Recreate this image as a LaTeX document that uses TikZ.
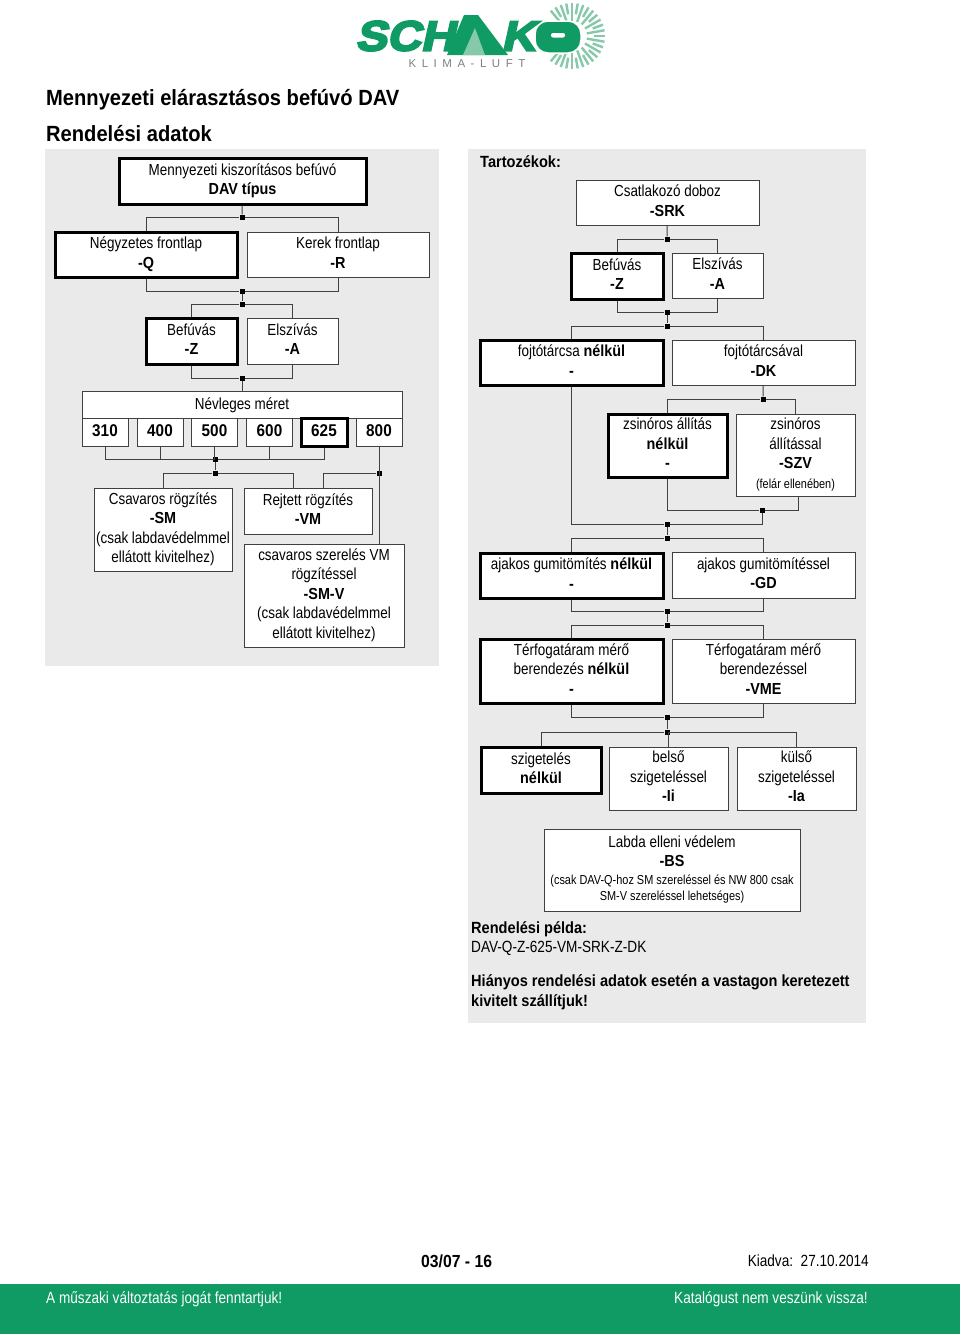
\documentclass[tikz,border=0pt]{standalone}
\usepackage{fontspec}
\setmainfont[FakeStretch=0.84,BoldFeatures={FakeStretch=0.9}]{Liberation Sans}
\newfontfamily\titlefont[FakeStretch=0.915]{Liberation Sans}
\newfontfamily\logofont[FakeStretch=1.12,FakeSlant=0.22,FakeBold=5]{Liberation Sans}
\newfontfamily\klimafont[LetterSpace=48]{Liberation Sans}
\definecolor{panelgray}{HTML}{EAEAEA}
\definecolor{linegray}{HTML}{404040}
\definecolor{schakogreen}{HTML}{0F9B63}
\definecolor{raygreen}{HTML}{86C8AA}
\newcommand{\smalltxt}{\fontsize{13}{16}\selectfont}
\newcommand{\boxstrut}{\rule[-4pt]{0pt}{17.2pt}}
\tikzset{
  optbox/.style={draw=linegray,fill=white,line width=1pt,inner sep=0pt,align=center,
    font=\fontsize{16}{19.5}\selectfont,text=black,
    execute at begin node=\boxstrut,execute at end node=\boxstrut},
  chosen/.style={optbox,draw=black,line width=3pt},
  sizebox/.style={font=\fontsize{17}{19.5}\selectfont\bfseries,minimum height=28pt},
  junc/.style={fill=black,inner sep=0pt,minimum size=5pt},
  conn/.style={draw=linegray,line width=1pt},
  freetxt/.style={anchor=west,inner sep=0pt,font=\fontsize{16.2}{19.5}\selectfont,text=black,align=left},
  logotxt/.style={anchor=west,inner sep=0pt,text=schakogreen,font=\fontsize{42}{42}\selectfont\logofont\bfseries}
}
\begin{document}
\begin{tikzpicture}[x=1pt,y=-1pt]

\useasboundingbox (0,0) rectangle (960,1334) ;

% panneaux

\fill[panelgray] (45,149) rectangle (439,666) ;
\fill[panelgray] (468,149) rectangle (866,1023) ;
\fill[schakogreen] (0,1284) rectangle (960,1334) ;

% logo

\foreach \a in {-130,-110,...,130} {
  \draw[raygreen,line width=2.4pt] (572,36) ++(\a:15) -- ++(\a:18) ;
}
\foreach \a in {-120,-100,...,120} {
  \draw[raygreen,line width=2.4pt] (572,36) ++(\a:22) -- ++(\a:11) ;
}
\fill[schakogreen,draw=white,line width=1.5pt,rounded corners=13pt] (535,21) rectangle (581,53) ;
\fill[white,rounded corners=2pt] (551,33) rectangle (565,37.5) ;
\node[logotxt] (logoa) at (355,36) {SCH} ;
\fill[schakogreen] (464,15) -- (478,15) -- (508,55) -- (447,55) -- cycle ;
\fill[raygreen] (475,28) -- (485,55) -- (463,55) -- cycle ;
\node[logotxt] (logob) at (501,36) {K} ;
\node[anchor=center,inner sep=0pt,text=gray,font=\fontsize{11.5}{12}\selectfont\klimafont] (klima) at (467,63.5) {KLIMA-LUFT} ;

% titres

\node[freetxt,font=\fontsize{22}{24}\selectfont\titlefont\bfseries] (titre) at (46,100) {Mennyezeti elárasztásos befúvó DAV} ;
\node[freetxt,font=\fontsize{22}{24}\selectfont\titlefont\bfseries] (soustitre) at (46,134) {Rendelési adatok} ;

% arbre gauche

\node[chosen,minimum width=247pt,minimum height=46pt] (dav) at (242.5,181) {Mennyezeti kiszorításos befúvó\\\textbf{DAV típus}} ;
\node[chosen,minimum width=182pt,minimum height=45pt] (q) at (146,254.5) {Négyzetes frontlap\\\textbf{-Q}} ;
\node[optbox,minimum width=182pt,minimum height=45pt] (r) at (338,254.5) {Kerek frontlap\\\textbf{-R}} ;
\node[chosen,minimum width=91pt,minimum height=46pt] (z) at (191.5,341) {Befúvás\\\textbf{-Z}} ;
\node[optbox,minimum width=91pt,minimum height=46pt] (a) at (292.5,341) {Elszívás\\\textbf{-A}} ;
\node[optbox,minimum width=320pt,minimum height=27pt] (meret) at (242,404.5) {Névleges méret} ;

\foreach \s/\x in {310/105,400/160,500/214.5,600/269.5,800/379} {
  \node[optbox,sizebox,minimum width=46pt] (s\s) at (\x,432) {\s} ;
}
\node[chosen,sizebox,minimum width=46pt] (s625) at (324,432) {625} ;

\node[optbox,minimum width=138pt,minimum height=83pt] (sm) at (163,529.5) {Csavaros rögzítés\\\textbf{-SM}\\(csak labdavédelmmel\\ellátott kivitelhez)} ;
\node[optbox,minimum width=128pt,minimum height=46pt] (vm) at (308,511) {Rejtett rögzítés\\\textbf{-VM}} ;
\node[optbox,minimum width=160pt,minimum height=103pt] (smv) at (324,595.5) {csavaros szerelés VM\\rögzítéssel\\\textbf{-SM-V}\\(csak labdavédelmmel\\ellátott kivitelhez)} ;

\node[junc] (j1) at (242,217) {} ;
\node[junc] (j2) at (242,291) {} ;
\node[junc] (j3) at (242,304) {} ;
\node[junc] (j4) at (242,378) {} ;
\node[junc] (j5) at (215,459) {} ;
\node[junc] (j6) at (215,473) {} ;
\node[junc] (j7) at (379,473) {} ;

\draw[conn] (dav) -- (j1) ;
\draw[conn] (q.north) |- (j1) -| (r.north) ;
\draw[conn] (q.south) |- (j2) -| (r.south) ;
\draw[conn] (j2) -- (j3) ;
\draw[conn] (z.north) |- (j3) -| (a.north) ;
\draw[conn] (z.south) |- (j4) -| (a.south) ;
\draw[conn] (j4) -- (meret) ;
\foreach \s in {310,400,500,600,625} {
  \draw[conn] (s\s.south) |- (j5) ;
}
\draw[conn] (j5) -- (j6) ;
\draw[conn] (sm.north) |- (j6) ;
\draw[conn] (j6) -| ([xshift=-15pt]vm.north) ;
\draw[conn] (j7) -| ([xshift=15pt]vm.north) ;
\draw[conn] (s800.south) -- (s800.south |- smv.north) ;

% arbre droit

\node[freetxt,font=\fontsize{16.2}{19.5}\selectfont\bfseries] (tartozek) at (480,162) {Tartozékok:} ;
\node[optbox,minimum width=183pt,minimum height=45pt] (srk) at (667.5,202.5) {Csatlakozó doboz\\\textbf{-SRK}} ;
\node[chosen,minimum width=92pt,minimum height=46pt] (bz) at (617,276) {Befúvás\\\textbf{-Z}} ;
\node[optbox,minimum width=91pt,minimum height=45pt] (ba) at (717.5,275.5) {Elszívás\\\textbf{-A}} ;
\node[chosen,minimum width=183pt,minimum height=45pt] (foj) at (571.5,362.5) {fojtótárcsa \textbf{nélkül}\\\textbf{-}} ;
\node[optbox,minimum width=183pt,minimum height=45pt] (dk) at (763.5,362.5) {fojtótárcsával\\\textbf{-DK}} ;
\node[chosen,minimum width=119pt,minimum height=63pt] (zsn) at (667.5,445.5) {zsinóros állítás\\\textbf{nélkül}\\\textbf{-}} ;
\node[optbox,minimum width=119pt,minimum height=82pt] (szv) at (795.5,455) {zsinóros\\állítással\\\textbf{-SZV}\\{\smalltxt (felár ellenében)}} ;
\node[chosen,minimum width=183pt,minimum height=45pt] (aj) at (571.5,575.5) {ajakos gumitömítés \textbf{nélkül}\\\textbf{-}} ;
\node[optbox,minimum width=183pt,minimum height=46pt] (gd) at (763.5,575) {ajakos gumitömítéssel\\\textbf{-GD}} ;
\node[chosen,minimum width=183pt,minimum height=64pt] (tn) at (571.5,671) {Térfogatáram mérő\\berendezés \textbf{nélkül}\\\textbf{-}} ;
\node[optbox,minimum width=183pt,minimum height=64pt] (vme) at (763.5,671) {Térfogatáram mérő\\berendezéssel\\\textbf{-VME}} ;
\node[chosen,minimum width=120pt,minimum height=46pt] (szn) at (541,770) {szigetelés\\\textbf{nélkül}} ;
\node[optbox,minimum width=119pt,minimum height=63pt] (li) at (668.5,778.5) {belső\\szigeteléssel\\\textbf{-Ii}} ;
\node[optbox,minimum width=119pt,minimum height=63pt] (la) at (796.5,778.5) {külső\\szigeteléssel\\\textbf{-Ia}} ;
\node[optbox,minimum width=256pt,minimum height=82pt] (bs) at (672,870) {Labda elleni védelem\\\textbf{-BS}\\[-2pt]{\smalltxt (csak DAV-Q-hoz SM szereléssel és NW 800 csak}\\[-3pt]{\smalltxt SM-V szereléssel lehetséges)}} ;

\node[junc] (k1) at (667,239) {} ;
\node[junc] (k2) at (667,312) {} ;
\node[junc] (k3) at (667,326) {} ;
\node[junc] (k4) at (763,399) {} ;
\node[junc] (k5) at (762,510) {} ;
\node[junc] (k6) at (667,524) {} ;
\node[junc] (k7) at (667,538) {} ;
\node[junc] (k8) at (667,611) {} ;
\node[junc] (k9) at (667,625) {} ;
\node[junc] (k10) at (667,717) {} ;
\node[junc] (k11) at (667,732) {} ;

\draw[conn] (srk) -- (k1) ;
\draw[conn] (bz.north) |- (k1) -| (ba.north) ;
\draw[conn] (bz.south) |- (k2) -| (ba.south) ;
\draw[conn] (k2) -- (k3) ;
\draw[conn] (foj.north) |- (k3) -| (dk.north) ;
\draw[conn] (dk) -- (k4) ;
\draw[conn] (zsn.north) |- (k4) -| (szv.north) ;
\draw[conn] (zsn.south) |- (k5) -| ([xshift=2.5pt]szv.south) ;
\draw[conn] (foj.south) |- (k6) -| (k5) ;
\draw[conn] (k6) -- (k7) ;
\draw[conn] (aj.north) |- (k7) -| (gd.north) ;
\draw[conn] (aj.south) |- (k8) -| (gd.south) ;
\draw[conn] (k8) -- (k9) ;
\draw[conn] (tn.north) |- (k9) -| (vme.north) ;
\draw[conn] (tn.south) |- (k10) -| (vme.south) ;
\draw[conn] (k10) -- (k11) ;
\draw[conn] (szn.north) |- (k11) -| (la.north) ;
\draw[conn] (k11) -| (li.north) ;

% textes du bas

\node[freetxt] (pelda) at (471,938.5) {\textbf{Rendelési példa:}\\DAV-Q-Z-625-VM-SRK-Z-DK} ;
\node[freetxt] (hianyos) at (471,992) {\textbf{Hiányos rendelési adatok esetén a vastagon keretezett}\\\textbf{kivitelt szállítjuk!}} ;
\node[freetxt,font=\fontsize{17.5}{19.5}\selectfont] (oldal) at (421,1261) {\textbf{03/07 - 16}} ;
\node[freetxt,anchor=east] (kiadva) at (869,1261) {Kiadva:\ \ 27.10.2014} ;
\node[freetxt,text=white] (muszaki) at (46,1299) {A műszaki változtatás jogát fenntartjuk!} ;
\node[freetxt,anchor=east,text=white] (katalogus) at (868,1299) {Katalógust nem veszünk vissza!} ;

\end{tikzpicture}
\end{document}
